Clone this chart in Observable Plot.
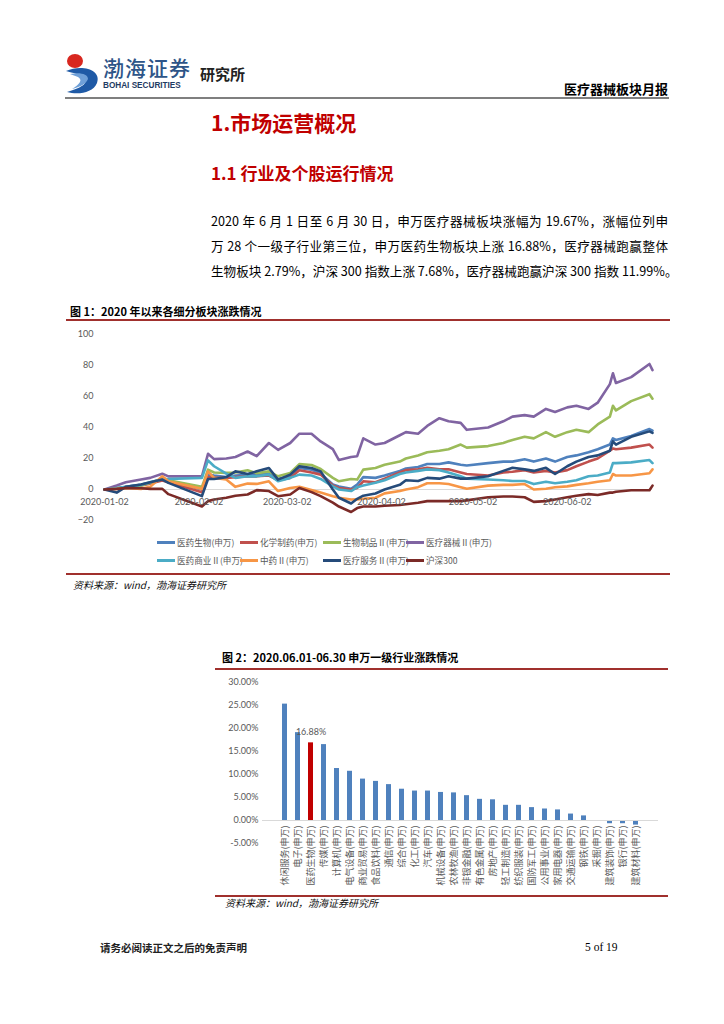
<!DOCTYPE html>
<html><head><meta charset="utf-8">
<script src="https://cdn.jsdelivr.net/npm/d3@7"></script>
<script src="https://cdn.jsdelivr.net/npm/@observablehq/plot@0.6"></script>
<style>
body{margin:0;background:#fff;}
#page{position:relative;width:724px;height:1024px;overflow:hidden;background:#fff;font-family:"Noto Sans CJK SC",sans-serif;color:#000;}
.abs{position:absolute;white-space:nowrap;}
.rule{position:absolute;}
.para{position:absolute;left:211px;width:457px;font-size:12.6px;line-height:25px;text-align:justify;text-align-last:justify;white-space:nowrap;}
.fig{font-size:11px;font-weight:bold;line-height:14px;}
.src{font-size:10px;font-style:italic;line-height:12px;color:#111;}
#legend{position:absolute;left:157px;top:533px;display:grid;grid-template-columns:83px 83px 83px 83px;row-gap:0px;}
#legend .it{height:18px;line-height:18px;font-size:8.6px;color:#595959;white-space:nowrap;}
#legend .sw{display:inline-block;width:18px;height:3px;vertical-align:middle;margin-right:2px;position:relative;top:-1px;}
</style></head><body>
<div id="page">
<svg class="abs" style="left:0;top:0" width="724" height="100">
  <ellipse cx="75" cy="61" rx="8" ry="7" fill="#d8271f"/>
  <path d="M66,71 C82,64 102,70 97,83 C93,93 78,95 67,92 C80,88 89,84 84,78 C80,74 73,73 66,71 Z" fill="#1f5aa6"/>
  <path d="M70,74 C80,72 88,74 88,79 C86,84 80,87 72,89 C80,84 83,80 78,77 Z" fill="#6fa0d8"/>
</svg>
<div class="abs" style="left:103px;top:54px;font-size:21px;line-height:26px;color:#2e5588;letter-spacing:1px;font-weight:500;">渤海证券</div>
<div class="abs" style="left:103px;top:81px;font-size:8.2px;line-height:10px;color:#1f3b63;font-weight:bold;font-family:'Liberation Sans',Arial,sans-serif;">BOHAI SECURITIES</div>
<div class="abs" style="left:200px;top:64px;font-size:15px;line-height:20px;font-weight:bold;color:#222;">研究所</div>
<div class="abs" style="right:56px;top:80px;font-size:13px;line-height:17px;font-weight:bold;">医疗器械板块月报</div>
<div class="rule" style="left:65px;top:97px;width:604px;height:2px;background:#7f7f7f;"></div>

<div class="abs" style="left:211px;top:108px;font-size:21px;line-height:28px;font-weight:bold;color:#c00000;">1.市场运营概况</div>
<div class="abs" style="left:211px;top:161px;font-size:17px;line-height:24px;font-weight:bold;color:#c00000;">1.1 行业及个股运行情况</div>

<div class="para" style="top:208px;">2020 年 6 月 1 日至 6 月 30 日，申万医疗器械板块涨幅为 19.67%，涨幅位列申</div>
<div class="para" style="top:233px;">万 28 个一级子行业第三位，申万医药生物板块上涨 16.88%，医疗器械跑赢整体</div>
<div class="para" style="top:258px;">生物板块 2.79%，沪深 300 指数上涨 7.68%，医疗器械跑赢沪深 300 指数 11.99%。</div>

<div class="abs fig" style="left:70px;top:304px;">图 1：2020 年以来各细分板块涨跌情况</div>
<div class="rule" style="left:66px;top:319px;width:604px;height:2px;background:#a0302d;"></div>
<div id="chart1" class="abs" style="left:60px;top:324px;"></div>
<div id="legend"></div>
<div class="rule" style="left:66px;top:573px;width:604px;height:2px;background:#a0302d;"></div>
<div class="abs src" style="left:73px;top:579px;">资料来源：wind，渤海证券研究所</div>

<div class="abs fig" style="left:222px;top:650px;">图 2：2020.06.01-06.30 申万一级行业涨跌情况</div>
<div class="rule" style="left:215px;top:668px;width:453px;height:2px;background:#a0302d;"></div>
<div id="chart2" class="abs" style="left:210px;top:672px;"></div>
<div class="rule" style="left:215px;top:895px;width:453px;height:2px;background:#a0302d;"></div>
<div class="abs src" style="left:225px;top:897px;">资料来源：wind，渤海证券研究所</div>

<div class="abs" style="left:100px;top:941px;font-size:10.5px;line-height:14px;font-weight:bold;color:#222;">请务必阅读正文之后的免责声明</div>
<div class="abs" style="left:585px;top:940px;font-size:11.5px;line-height:14px;font-family:'Liberation Serif',serif;">5 of 19</div>
</div>
<script>
// ---------- Chart 1 data ----------
const dates = ["2020-01-02","2020-01-06","2020-01-09","2020-01-14","2020-01-17","2020-01-21","2020-01-23",
"2020-02-03","2020-02-05","2020-02-07","2020-02-11","2020-02-14","2020-02-18","2020-02-21","2020-02-25","2020-02-28",
"2020-03-03","2020-03-06","2020-03-10","2020-03-13","2020-03-17","2020-03-19","2020-03-23","2020-03-25","2020-03-27","2020-03-31",
"2020-04-03","2020-04-08","2020-04-10","2020-04-14","2020-04-17","2020-04-21","2020-04-24","2020-04-28","2020-04-30",
"2020-05-07","2020-05-12","2020-05-15","2020-05-19","2020-05-22","2020-05-26","2020-05-29",
"2020-06-02","2020-06-05","2020-06-09","2020-06-12","2020-06-16","2020-06-17","2020-06-18","2020-06-23","2020-06-29","2020-06-30"];
const seriesNames = ["医药生物(申万)","化学制药(申万)","生物制品Ⅱ(申万)","医疗器械Ⅱ(申万)","医药商业Ⅱ(申万)","中药Ⅱ(申万)","医疗服务Ⅱ(申万)","沪深300"];
const yiyaoShengwu = [0,0.5,1.7,3,4.3,6.4,5.3, 0,9.6,9,8.1,9,9.5,9.6,10.2,6.8, 8.5,13.9,12.8,10.2,3.2,2,0.4,3.2,8,7.5, 9,12,13.5,14.5,16.5,16.5,17.5,16,15.5, 17,18,18,19.5,18,20,18, 21,22,24,26,29,33,32,34.5,39,38];
const huaxueZhiyao = [0,0.8,1.5,2.6,3.8,5.8,4.7, -1.7,8.1,7.5,7.5,8,8.5,8.5,9,6, 7.5,12.4,11,9.6,2.6,1,0,1,5.3,4.7, 7,11,12.5,13,14,13,13,11,10, 9,11,11.5,12.5,11,12,11, 12.5,15,18,20,25,26.5,26,27,29,27];
const shengwuZhipin = [0,1,1,2.6,4.3,6.8,6, 1.7,12.8,11,10.7,11,12.4,10.5,11.7,8.5, 10.7,16.4,15.8,13.2,7.5,5.3,6.8,6.4,12.8,13.9, 16,18,20,22,24,25,26,29,27, 28,30,32,34,33,37,34, 37,38.5,37,42,47,54,51,57,61.5,58.6];
const yiliaoQixie = [0,2.6,4.7,6.4,7.5,10.2,8.5, 8.5,23,19.6,20,21,24.5,21.5,30,25.6, 30,36,36,31,26,19,21,21.5,33,29, 30,35,37,36,41,46,44,43,38.5, 40,44,47,48,47,52,50, 53,54,52,56,68,75,68.7,72.5,81,77];
const yiyaoShangye = [0,1,1.7,3,4.7,6.8,6.8, 7.5,18.8,15,10.2,7.5,8.5,8.5,9.6,5.3, 7.5,9.6,9,6.8,2,0,-1,1.5,2.6,4.3, 6,10,11,12,13,12.5,11,8.5,7, 6.5,6,5.5,5.5,3.5,5,4, 5,6,8.5,9,11,17,17,17.5,19,17];
const zhongyao = [0,0.4,1,0.4,1.7,8.5,5.3, 0.4,11.7,7.5,6.4,1.7,3.8,3.6,5.3,-1, 1,1.7,-0.4,-2,-4.3,-5.3,-6.5,-6.4,-6,-5.3, -2.5,-1,0,1.5,4,4,3.5,1.5,0.5, 2.5,3,3,3.5,0,0.5,1.5, 2,3,4,5,6,10,9,9,10.5,13];
const yiliaoFuwu = [0,-2,1.7,3.2,4.7,6.4,4.3, -4.3,6.8,6.8,8,11.7,10,11.7,13.9,6.4, 9.6,15,13.9,11.7,0,-5.3,-9,-6,-4,-2.6, 0,3,6,5.5,7.5,7,8.5,7,7, 8.5,12,14,13,12,14,10, 15,18,21,22,25,31,29,34,37.5,36.5];
const hs300 = [0,0.4,1,0.8,0.4,0.4,-3, -11,-7.5,-6.5,-5.3,-4,-3.2,-0.4,-1,-4.3, -3.2,1,-1.7,-4.3,-8.5,-11,-14.5,-12,-11,-11, -10.5,-10,-9.5,-8.5,-7.5,-7.5,-7.5,-7.5,-7, -5,-4.5,-4.5,-5,-8,-7.5,-6.5, -5,-4,-3,-3.5,-2,-2,-1.5,-0.5,-0.5,2.5];
const xTickDates = ["2020-01-02","2020-02-02","2020-03-02","2020-04-02","2020-05-02","2020-06-02"];
const yTicks1 = [-20,0,20,40,60,80,100];
const seriesColors = ["#4f81bd","#c0504d","#9bbb59","#8064a2","#4bacc6","#f79646","#254b7a","#7b2a27"];

// ---------- Chart 2 data ----------
const industries = ["休闲服务(申万)","电子(申万)","医药生物(申万)","传媒(申万)","计算机(申万)","电气设备(申万)","商业贸易(申万)","食品饮料(申万)","通信(申万)","综合(申万)","化工(申万)","汽车(申万)","机械设备(申万)","农林牧渔(申万)","非银金融(申万)","有色金属(申万)","房地产(申万)","轻工制造(申万)","纺织服装(申万)","国防军工(申万)","公用事业(申万)","家用电器(申万)","交通运输(申万)","钢铁(申万)","采掘(申万)","建筑装饰(申万)","银行(申万)","建筑材料(申万)"];
const changes = [25.3,19.1,16.88,16.5,11.3,10.7,9.0,8.5,7.8,6.8,6.4,6.4,6.1,6.0,5.4,4.6,4.5,3.3,3.3,2.8,2.5,2.3,1.4,1.0,-0.1,-0.7,-0.7,-1.0];
const highlight = "医药生物(申万)";
const yTicks2 = [-5,0,5,10,15,20,25,30];

// ---------- Build chart 1 ----------
const seriesValues = [yiyaoShengwu,huaxueZhiyao,shengwuZhipin,yiliaoQixie,yiyaoShangye,zhongyao,yiliaoFuwu,hs300];
const rows1 = [];
seriesNames.forEach((name,i)=>{
  seriesValues[i].forEach((v,j)=>rows1.push({date:new Date(dates[j]),value:v,series:name}));
});
const tickRows = xTickDates.map(d=>({date:new Date(d),label:d}));
const numFont = "Lato,'Noto Sans CJK SC',sans-serif";
const chart1 = Plot.plot({
  width:610, height:202,
  marginLeft:44, marginRight:18, marginTop:10, marginBottom:6,
  style:{fontFamily:numFont,fontSize:"9px",color:"#595959",background:"transparent"},
  x:{type:"utc",domain:[new Date("2020-01-02"),new Date("2020-06-30")],axis:null},
  y:{domain:[-20,100],ticks:yTicks1,tickSize:0,tickPadding:11,label:null},
  color:{domain:seriesNames,range:seriesColors},
  marks:[
    Plot.ruleY([0],{stroke:"#d9d9d9",strokeWidth:1}),
    Plot.line(rows1,{x:"date",y:"value",z:"series",stroke:"series",strokeWidth:2.6,strokeLinejoin:"round",strokeLinecap:"round"}),
    Plot.text(tickRows,{x:"date",y:()=>0,text:"label",dy:13,fill:"#595959",fontSize:9})
  ]
});
document.getElementById("chart1").appendChild(chart1);

// legend
const lg = document.getElementById("legend");
seriesNames.forEach((n,i)=>{
  const d = document.createElement("div");
  d.className="it";
  d.innerHTML = `<span class="sw" style="background:${seriesColors[i]}"></span>${n}`;
  lg.appendChild(d);
});

// ---------- Build chart 2 ----------
const rows2 = industries.map((n,i)=>({name:n,value:changes[i]}));
const chart2 = Plot.plot({
  width:460, height:224,
  marginLeft:52, marginRight:12, marginTop:10, marginBottom:53,
  style:{fontFamily:numFont,fontSize:"9px",color:"#595959",background:"transparent"},
  x:{domain:industries,padding:0.6,axis:null},
  y:{domain:[-5,30],ticks:yTicks2,tickSize:0,tickPadding:4,tickFormat:d=>d.toFixed(2)+"%",label:null},
  marks:[
    Plot.barY(rows2.filter(d=>d.name!==highlight),{x:"name",y:"value",fill:"#4f81bd"}),
    Plot.barY(rows2.filter(d=>d.name===highlight),{x:"name",y:"value",fill:"#c00000"}),
    Plot.ruleY([0],{stroke:"#d9d9d9",strokeWidth:1}),
    Plot.text(rows2.filter(d=>d.name===highlight),{x:"name",y:"value",text:d=>d.value.toFixed(2)+"%",dy:-11,fill:"#595959",fontSize:9}),
    Plot.text(rows2,{x:"name",y:()=>0,text:"name",rotate:-90,textAnchor:"end",dy:5,fill:"#595959",fontSize:9,fontFamily:"'Noto Sans CJK SC',sans-serif"})
  ]
});
document.getElementById("chart2").appendChild(chart2);
</script>
</body></html>
